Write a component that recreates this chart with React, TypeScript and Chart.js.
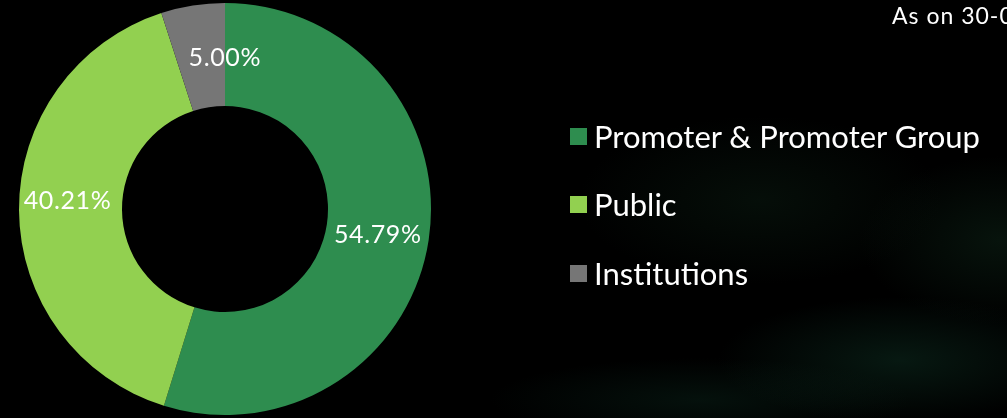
import React, { useEffect, useRef } from "react";
import { Chart, registerables } from "chart.js";

Chart.register(...registerables);

const categories = ["Promoter & Promoter Group", "Public", "Institutions"];
const shareValues = [54.79, 40.21, 5.0];
const sliceColors = ["#2E8D4F", "#92D050", "#767676"];
const asOnText = "As on 30-06-2024";

const FONT = "Lato, 'Open Sans', sans-serif";

// small nudges (px) for the percent labels, relative to the arc's middle
const labelNudges = [
  [0, 3],
  [-3, -9],
  [24, 2],
];

const percentLabels = {
  id: "percentLabels",
  afterDatasetsDraw(chart: any) {
    const { ctx } = chart;
    const meta = chart.getDatasetMeta(0);
    const ds = chart.data.datasets[0];
    ctx.save();
    ctx.fillStyle = "#ffffff";
    ctx.font = `400 25px ${FONT}`;
    try { (ctx as any).letterSpacing = "0.6px"; } catch (e) {}
    ctx.textAlign = "center";
    ctx.textBaseline = "middle";
    meta.data.forEach((arc: any, i: number) => {
      const p = arc.tooltipPosition();
      const n = labelNudges[i] || [0, 0];
      const v = Number(ds.data[i]);
      ctx.fillText(v.toFixed(2) + "%", p.x + n[0], p.y + n[1]);
    });
    ctx.restore();
  },
};

export default function App() {
  const ref = useRef<HTMLCanvasElement | null>(null);

  useEffect(() => {
    if (!ref.current) return;
    const chart = new Chart(ref.current, {
      type: "doughnut",
      data: {
        labels: categories,
        datasets: [
          {
            data: shareValues,
            backgroundColor: sliceColors,
            borderWidth: 0,
          },
        ],
      },
      options: {
        responsive: false,
        animation: false,
        cutout: "50%",
        layout: { padding: { left: 19, right: 576, top: 3, bottom: 3 } },
        plugins: {
          legend: { display: false },
          tooltip: { enabled: false },
        },
      },
      plugins: [percentLabels],
    });
    return () => chart.destroy();
  }, []);

  const legendTops = [128, 196, 265];

  return (
    <div
      style={{
        position: "fixed",
        left: 0,
        top: 0,
        width: 1007,
        height: 418,
        overflow: "hidden",
        background:
          "radial-gradient(ellipse 260px 90px at 900px 360px, rgba(20,70,50,0.35), rgba(0,0,0,0) 70%)," +
          "radial-gradient(ellipse 300px 60px at 700px 400px, rgba(15,55,40,0.3), rgba(0,0,0,0) 70%)," +
          "radial-gradient(ellipse 260px 120px at 760px 200px, rgba(15,40,25,0.35), rgba(0,0,0,0) 70%)," +
          "radial-gradient(ellipse 200px 120px at 1000px 240px, rgba(20,55,35,0.35), rgba(0,0,0,0) 70%)," +
          "#000",
        fontFamily: FONT,
      }}
    >
      <canvas ref={ref} width={1007} height={418} style={{ position: "absolute", left: 0, top: 0 }} />
      <div
        style={{
          position: "absolute",
          left: 892,
          top: 1,
          color: "#fff",
          fontSize: 23,
          letterSpacing: "1px",
          whiteSpace: "nowrap",
          lineHeight: "28px",
        }}
      >
        {asOnText}
      </div>
      {categories.map((c, i) => (
        <div key={c} style={{ position: "absolute", left: 570, top: legendTops[i] - 12, height: 40, display: "flex", alignItems: "center", whiteSpace: "nowrap" }}>
          <div style={{ width: 17, height: 17, background: sliceColors[i], marginRight: 7 }} />
          <span style={{ color: "#fff", fontSize: 31, lineHeight: "40px" }}>{c}</span>
        </div>
      ))}
    </div>
  );
}
